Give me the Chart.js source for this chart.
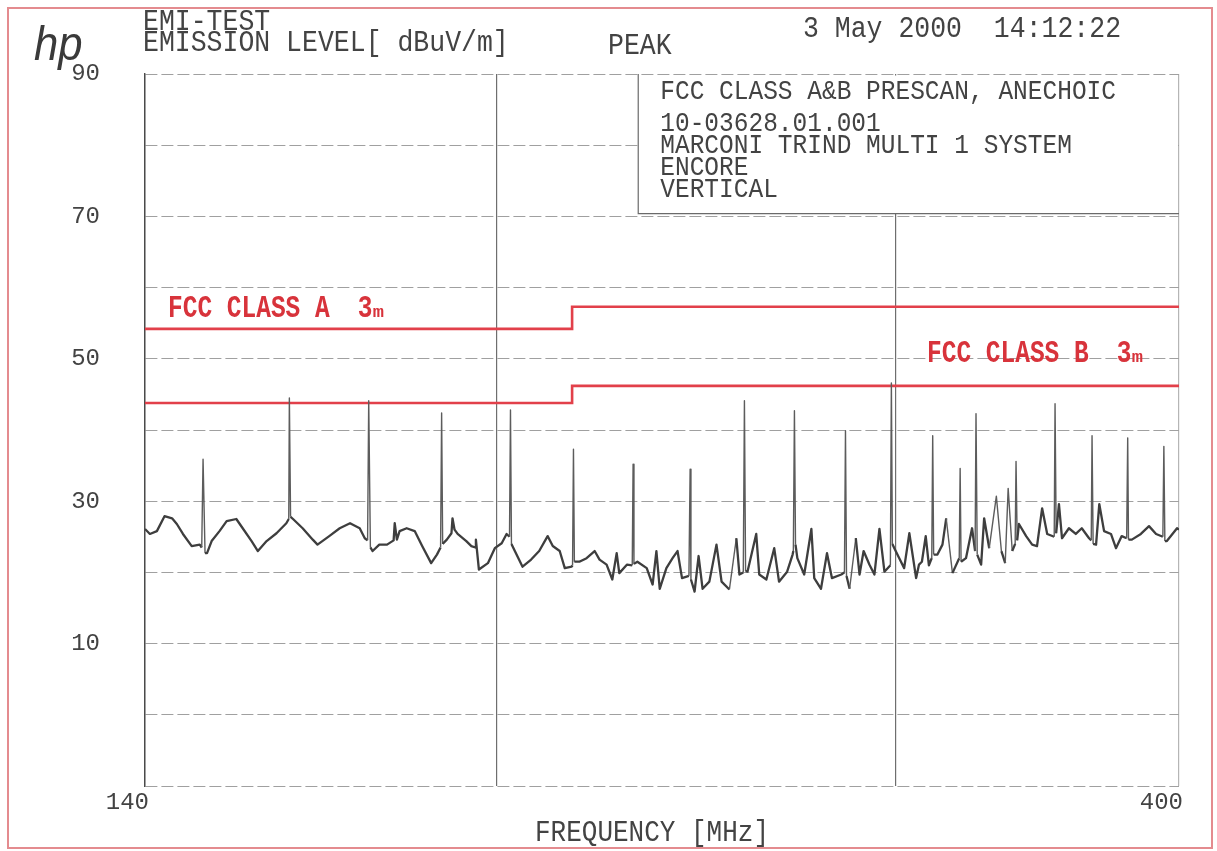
<!DOCTYPE html>
<html>
<head>
<meta charset="utf-8">
<script src="https://cdn.jsdelivr.net/npm/chart.js@4.4.1/dist/chart.umd.min.js"></script>
<style>
  html, body { margin: 0; padding: 0; background: #fff; }
  canvas { display: block; }
</style>
</head>
<body>
<canvas id="emiChart" width="1217" height="851"></canvas>
<script>
// ============================================
// DATA
// ============================================

// measured peak trace, MHz / dBuV/m
const freqMHz = [
  140.0, 140.7, 141.7, 142.8, 143.9, 144.6, 145.5, 146.8, 148.0, 148.3,
  148.5, 148.8, 149.1, 149.8, 151.0, 152.1, 153.6, 154.6, 156.0, 157.0,
  158.4, 160.0, 161.6, 162.0, 162.1, 162.3, 162.7, 164.3, 166.0, 166.8,
  168.8, 170.6, 172.4, 174.1, 175.0, 175.5, 175.7, 176.0, 176.4, 177.6,
  179.0, 180.2, 180.4, 180.8, 181.3, 182.6, 184.1, 185.5, 187.2, 188.3,
  189.0, 189.2, 189.4, 190.2, 191.1, 191.3, 191.7, 192.3, 194.0, 195.0,
  195.8, 195.9, 196.5, 198.3, 199.7, 201.1, 202.1, 202.7, 202.9, 203.1,
  203.8, 205.4, 207.2, 208.9, 210.7, 211.8, 213.3, 214.4, 215.9, 216.1,
  216.3, 216.5, 217.6, 219.2, 221.0, 222.1, 223.7, 225.0, 226.0, 226.6,
  228.4, 229.6, 229.8, 230.0, 230.8, 233.0, 234.4, 235.3, 236.1, 237.7,
  239.2, 240.4, 241.5, 243.2, 243.5, 243.7, 244.6, 245.6, 246.6, 248.3,
  250.1, 251.4, 253.4, 255.2, 256.0, 257.0, 257.3, 257.6, 258.1, 260.4,
  261.2, 263.1, 265.2, 266.5, 268.7, 270.2, 270.4, 270.7, 271.0, 271.5,
  273.4, 275.4, 276.2, 278.1, 279.8, 281.2, 283.9, 284.8, 285.1, 285.4,
  286.3, 288.1, 289.2, 290.4, 292.1, 293.6, 295.1, 296.6, 298.4, 298.7,
  299.0, 299.6, 301.1, 302.6, 304.2, 306.3, 307.2, 308.1, 309.3, 310.3,
  311.2, 311.5, 311.8, 313.0, 314.6, 315.8, 317.8, 320.0, 320.3, 320.6,
  322.2, 324.2, 325.2, 325.5, 325.9, 327.2, 328.2, 329.9, 332.3, 334.0,
  335.3, 336.3, 337.7, 338.7, 339.0, 339.4, 340.0, 342.5, 344.6, 346.3,
  348.1, 349.9, 352.4, 352.7, 353.1, 354.1, 355.2, 357.7, 360.2, 362.4,
  365.1, 365.9, 366.2, 366.6, 367.7, 368.9, 370.7, 373.3, 375.2, 377.4,
  379.3, 379.7, 380.0, 381.3, 384.8, 388.0, 390.8, 393.5, 393.9, 394.3,
  395.1, 399.2, 400.0
];
const levelDbuv = [
  26.1, 25.4, 25.8, 27.9, 27.6, 26.8, 25.4, 23.7, 23.9, 23.5,
  35.9, 22.7, 22.7, 24.4, 25.8, 27.2, 27.5, 26.2, 24.4, 23.0,
  24.4, 25.5, 26.9, 27.5, 44.5, 27.8, 27.5, 26.2, 24.6, 23.9,
  25.1, 26.2, 26.9, 26.2, 24.8, 24.5, 44.1, 23.5, 23.0, 23.9,
  23.9, 24.5, 26.9, 24.6, 25.8, 26.2, 25.8, 23.7, 21.3, 22.5,
  23.5, 42.4, 24.0, 24.6, 25.5, 27.6, 26.0, 25.4, 24.4, 23.7,
  23.5, 24.6, 20.4, 21.3, 23.4, 24.1, 25.4, 25.0, 42.8, 24.0,
  23.0, 20.8, 21.8, 23.0, 25.1, 23.7, 23.0, 20.6, 20.8, 21.0,
  37.3, 21.5, 21.5, 22.0, 23.0, 21.8, 21.1, 19.0, 22.7, 19.9,
  21.1, 21.0, 35.2, 21.2, 21.5, 20.6, 18.3, 23.0, 17.7, 20.6,
  22.0, 23.0, 19.2, 19.5, 34.5, 19.0, 17.3, 22.3, 17.7, 18.7,
  23.9, 18.7, 17.6, 24.8, 19.7, 20.0, 44.1, 20.2, 20.1, 25.4,
  19.7, 19.0, 23.4, 18.7, 20.1, 22.5, 23.0, 42.7, 23.9, 22.0,
  19.7, 26.1, 19.2, 17.7, 22.7, 19.2, 19.7, 20.0, 39.9, 19.5,
  17.7, 24.8, 19.7, 23.0, 21.1, 19.7, 26.1, 20.1, 21.0, 46.6,
  24.0, 23.4, 22.0, 20.6, 25.5, 19.2, 21.1, 21.5, 25.1, 21.0,
  22.0, 39.2, 22.5, 22.5, 23.9, 27.6, 19.9, 22.0, 34.6, 21.5,
  22.0, 26.2, 23.0, 42.3, 22.5, 21.1, 27.6, 23.4, 30.7, 23.0,
  21.3, 31.8, 23.0, 24.0, 35.6, 24.5, 26.8, 25.1, 23.9, 23.7,
  29.0, 25.4, 25.0, 43.7, 25.5, 29.6, 24.8, 26.2, 25.4, 26.2,
  24.8, 24.5, 39.2, 24.0, 23.9, 29.6, 25.8, 25.4, 23.4, 25.1,
  24.8, 38.9, 24.6, 24.6, 25.4, 26.5, 25.4, 25.0, 37.7, 24.4,
  24.4, 26.2, 26.0
];

// FCC limit lines (3 m)
const limitFreq = [140, 216, 216, 400];
const classA3m = [54.2, 54.2, 57.3, 57.3];
const classB3m = [43.8, 43.8, 46.2, 46.2];

// axes
const xGridFreq = [140, 200, 300, 400];
const xTickLabels = [140, 400];
const yTickLabels = [90, 70, 50, 30, 10];

// texts on the sheet
const headerTitle = 'EMI-TEST';
const headerUnit = 'EMISSION LEVEL[ dBuV/m]';
const headerDetector = 'PEAK';
const headerDate = '3 May 2000  14:12:22';
const boxLines = [
  'FCC CLASS A&B PRESCAN, ANECHOIC',
  '10-03628.01.001',
  'MARCONI TRIND MULTI 1 SYSTEM',
  'ENCORE',
  'VERTICAL'
];
const xTitle = 'FREQUENCY [MHz]';

// ============================================
// HELPERS
// ============================================

const MONO = '"Liberation Mono", "DejaVu Sans Mono", monospace';
const INK = '#434343';
const RED = '#d8333b';

function zip(xs, ys) {
  return xs.map((x, i) => ({ x: x, y: ys[i] }));
}

function plotText(ctx, s, x, y, size, opts) {
  opts = opts || {};
  ctx.save();
  ctx.font = (opts.weight || 'normal') + ' ' + size + 'px ' + (opts.family || MONO);
  ctx.fillStyle = opts.color || INK;
  ctx.textAlign = opts.align || 'left';
  ctx.textBaseline = 'middle';
  ctx.translate(x, y);
  ctx.scale(opts.sx || 1, opts.sy || 1.12);
  ctx.fillText(s, 0, 0);
  ctx.restore();
}

function limitLabel(ctx, s, x, y) {
  plotText(ctx, s, x, y, 24.5, { weight: 'bold', color: RED, sy: 1.3 });
  ctx.save();
  ctx.font = 'bold 24.5px ' + MONO;
  const base = ctx.measureText(s).width;
  ctx.restore();
  plotText(ctx, '3', x + base + 28, y, 24.5, { weight: 'bold', color: RED, sy: 1.3 });
  plotText(ctx, 'm', x + base + 43, y + 4, 17, { weight: 'bold', color: RED, sy: 1.0, sx: 1.1 });
}

// spikes are drawn by the plotter pen as thin, lighter strokes
function isSpike(seg) {
  return Math.abs(seg.p1.parsed.y - seg.p0.parsed.y) > 7;
}

// ============================================
// SHEET DECORATION PLUGIN
// ============================================

const sheetPlugin = {
  id: 'sheet',
  beforeDatasetsDraw(chart) {
    // legend box in the upper right corner
    const ctx = chart.ctx;
    const xs = chart.scales.x, ys = chart.scales.y;
    const a = chart.chartArea;
    const bx = xs.getPixelForValue(231);
    const by = ys.getPixelForValue(70.4);
    ctx.save();
    ctx.fillStyle = '#fff';
    ctx.fillRect(bx, a.top + 1.5, a.right - bx - 1, by - a.top - 1.5);
    ctx.strokeStyle = '#6a6a6a';
    ctx.lineWidth = 1.2;
    ctx.beginPath();
    ctx.moveTo(bx, a.top);
    ctx.lineTo(bx, by);
    ctx.lineTo(a.right, by);
    ctx.stroke();
    ctx.restore();
    boxLines.forEach((s, i) => {
      const yy = [92, 124, 146, 168, 190][i];
      plotText(ctx, s, bx + 22, yy, 24.5);
    });
  },
  afterDraw(chart) {
    const ctx = chart.ctx;
    // pink frame of the sheet
    ctx.save();
    ctx.strokeStyle = '#e48b8f';
    ctx.lineWidth = 2;
    ctx.strokeRect(8, 8, 1204, 840);
    ctx.restore();

    // hp logo
    ctx.save();
    ctx.font = 'italic 300 46px "Liberation Sans", sans-serif';
    ctx.fillStyle = '#3a3a3a';
    ctx.textBaseline = 'alphabetic';
    ctx.translate(34, 60);
    ctx.scale(0.95, 1.05);
    ctx.fillText('hp', 0, 0);
    ctx.restore();

    plotText(ctx, headerTitle, 143, 22, 26.5);
    plotText(ctx, headerUnit, 143, 43, 26.5);
    plotText(ctx, headerDetector, 608, 46, 26.5);
    plotText(ctx, headerDate, 803, 29, 26.5);

    limitLabel(ctx, 'FCC CLASS A', 168, 309);
    limitLabel(ctx, 'FCC CLASS B', 927, 354);

    plotText(ctx, xTitle, 652, 833, 26, { align: 'center' });
  }
};

// ============================================
// CHART
// ============================================

const ctx = document.getElementById('emiChart').getContext('2d');

new Chart(ctx, {
  type: 'line',
  data: {
    datasets: [
      {
        label: 'Peak',
        data: zip(freqMHz, levelDbuv),
        borderColor: '#3e3e3e',
        borderWidth: 2.3,
        pointRadius: 0,
        tension: 0,
        borderJoinStyle: 'round',
        segment: {
          borderWidth: s => (isSpike(s) ? 1.4 : 2.3),
          borderColor: s => (isSpike(s) ? '#5c5c5c' : '#3e3e3e')
        }
      },
      { label: 'FCC Class A 3m', data: zip(limitFreq, classA3m), borderColor: '#e2404a', borderWidth: 2.6, pointRadius: 0, tension: 0 },
      { label: 'FCC Class B 3m', data: zip(limitFreq, classB3m), borderColor: '#e2404a', borderWidth: 2.6, pointRadius: 0, tension: 0 }
    ]
  },
  options: {
    responsive: false,
    animation: false,
    layout: { padding: { top: 74, right: 38, bottom: 0, left: 0 } },
    plugins: { legend: { display: false }, tooltip: { enabled: false } },
    scales: {
      x: {
        type: 'logarithmic',
        min: 140,
        max: 400,
        afterFit: s => { s.height = 65; },
        afterBuildTicks: s => { s.ticks = xGridFreq.map(v => ({ value: v })); },
        grid: {
          drawTicks: false,
          lineWidth: 1.2,
          color: c => {
            const v = c.tick && c.tick.value;
            if (v === 400) return '#b5b5b5';
            if (v === 140) return '#4a4a4a';
            return '#6e6e6e';
          }
        },
        border: { display: false },
        ticks: {
          autoSkip: false,
          maxRotation: 0,
          align: 'end',
          labelOffset: 4,
          padding: 2,
          color: INK,
          font: { family: MONO, size: 24 },
          callback: v => (xTickLabels.includes(v) ? String(v) : '')
        }
      },
      y: {
        min: -10,
        max: 90,
        afterFit: s => { s.width = 145; },
        grid: { drawTicks: false, color: '#a0a0a0', lineWidth: 1 },
        border: { display: true, color: '#4a4a4a', width: 1.4, dash: [12, 4] },
        ticks: {
          stepSize: 10,
          padding: 45,
          color: INK,
          font: { family: MONO, size: 24 },
          callback: v => (yTickLabels.includes(v) ? String(v) : '')
        }
      }
    }
  },
  plugins: [sheetPlugin]
});
</script>
</body>
</html>
